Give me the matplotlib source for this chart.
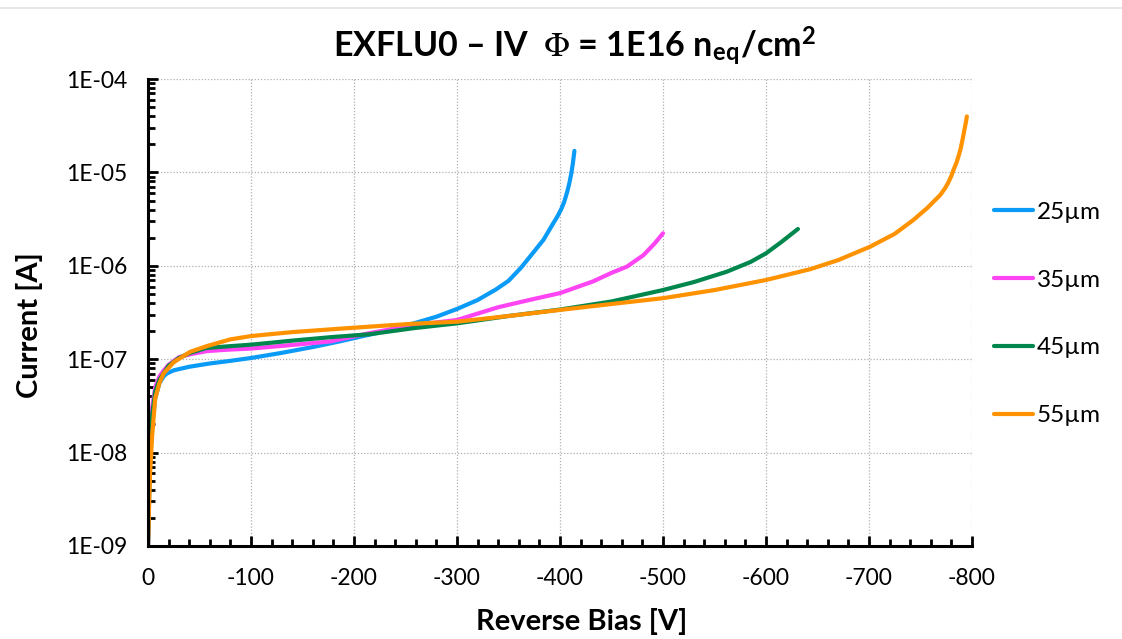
import numpy as np
import matplotlib
matplotlib.use("Agg")
import matplotlib.pyplot as plt
from matplotlib.ticker import FixedLocator, FuncFormatter, LogLocator, NullFormatter, MultipleLocator
from matplotlib.lines import Line2D

plt.rcParams['font.family'] = ['Lato', 'DejaVu Sans']
plt.rcParams['axes.unicode_minus'] = False
plt.rcParams['mathtext.fontset'] = 'stix'

labels = ["25µm", "35µm", "45µm", "55µm"]
colors = ["#0A9BF7", "#FF44F4", "#00874D", "#FF9200"]

v25 = [0, -1, -2, -4, -7, -11, -15, -18, -25, -40, -60, -80, -100, -130, -160, -186, -210,
       -235, -258, -280, -300, -320, -338, -350, -362, -372, -384, -393, -397, -401, -404,
       -407, -409, -411, -412.5, -414]
i25 = [1e-9, 3e-9, 8e-9, 2e-8, 3.8e-8, 5.5e-8, 6.5e-8, 7.0e-8, 7.6e-8, 8.3e-8, 9.0e-8, 9.6e-8, 1.03e-7,
       1.17e-7, 1.35e-7, 1.55e-7, 1.78e-7, 2.05e-7, 2.42e-7, 2.85e-7, 3.45e-7, 4.3e-7, 5.6e-7, 6.9e-7,
       9.5e-7, 1.3e-6, 1.9e-6, 2.8e-6, 3.3e-6, 4.0e-6, 4.8e-6, 6.2e-6, 7.6e-6, 9.8e-6, 1.25e-5, 1.7e-5]

v35 = [0, -1, -2, -4, -7, -11, -15, -20, -30, -41, -57, -75, -100, -140, -177, -215, -258, -300,
       -340, -370, -400, -432, -450, -465, -481, -492, -500]
i35 = [1e-9, 5e-9, 1.3e-8, 3e-8, 5e-8, 6.5e-8, 7.5e-8, 8.7e-8, 1.05e-7, 1.13e-7, 1.22e-7, 1.26e-7,
       1.3e-7, 1.42e-7, 1.55e-7, 1.9e-7, 2.32e-7, 2.63e-7, 3.6e-7, 4.3e-7, 5.1e-7, 6.8e-7, 8.4e-7,
       9.8e-7, 1.3e-6, 1.74e-6, 2.23e-6]

v45 = [0, -1, -2, -4, -7, -11, -15, -20, -30, -41, -57, -80, -100, -140, -177, -215, -258, -300,
       -350, -400, -450, -500, -530, -562, -585, -600, -615, -631]
i45 = [1e-9, 4e-9, 1e-8, 2.5e-8, 4.5e-8, 6e-8, 7e-8, 8.5e-8, 1.03e-7, 1.17e-7, 1.32e-7, 1.38e-7,
       1.43e-7, 1.58e-7, 1.72e-7, 1.85e-7, 2.15e-7, 2.42e-7, 2.9e-7, 3.4e-7, 4.15e-7, 5.5e-7, 6.7e-7,
       8.65e-7, 1.1e-6, 1.36e-6, 1.8e-6, 2.48e-6]

v55 = [0, -1, -2, -4, -7, -11, -15, -25, -41, -57, -80, -100, -140, -186, -220, -258, -300, -350,
       -400, -450, -500, -550, -600, -643, -670, -701, -725, -743, -757, -763, -769, -774, -777,
       -780, -782, -785, -787, -789, -791, -793, -794, -795]
i55 = [1e-9, 2.6e-9, 6e-9, 1.5e-8, 3.8e-8, 5.5e-8, 7e-8, 9.3e-8, 1.2e-7, 1.38e-7, 1.63e-7, 1.77e-7,
       1.95e-7, 2.12e-7, 2.25e-7, 2.4e-7, 2.52e-7, 2.9e-7, 3.37e-7, 3.9e-7, 4.5e-7, 5.5e-7, 7.05e-7,
       9.2e-7, 1.15e-6, 1.6e-6, 2.2e-6, 3.09e-6, 4.2e-6, 4.9e-6, 5.7e-6, 6.8e-6, 7.8e-6, 9.2e-6,
       1.06e-5, 1.28e-5, 1.5e-5, 1.8e-5, 2.3e-5, 3e-5, 3.4e-5, 3.97e-5]

series_v = [v25, v35, v45, v55]
series_i = [i25, i35, i45, i55]

title = r'EXFLU0 – IV  $\Phi$ = 1E16 n$_{\mathregular{eq}}$/cm$^{\mathregular{2}}$'

W, H = 1122, 639
fig = plt.figure(figsize=(W / 100, H / 100), dpi=100)
ax = fig.add_axes([148 / W, 1 - 546 / H, (972 - 148) / W, (546 - 79) / H])

for v, i, c, lab in zip(series_v, series_i, colors, labels):
    ax.plot(v, i, color=c, lw=3.0, label=lab, solid_capstyle='round', solid_joinstyle='round', zorder=3)

ax.set_yscale('log')
ax.set_xlim(0, -800)
ax.set_ylim(1e-9, 1e-4)

ax.xaxis.set_major_locator(MultipleLocator(100))
ax.xaxis.set_minor_locator(MultipleLocator(20))
ax.xaxis.set_major_formatter(FuncFormatter(lambda x, p: f"{int(round(x))}"))
ax.yaxis.set_major_locator(FixedLocator([10.0 ** e for e in range(-9, -3)]))
ax.yaxis.set_minor_locator(LogLocator(base=10, subs=np.arange(2, 10)))
ax.yaxis.set_minor_formatter(NullFormatter())
ax.yaxis.set_major_formatter(FuncFormatter(lambda y, p: f"1E-{abs(int(round(np.log10(y)))):02d}"))

ax.grid(True, which='major', color='#b0b0b0', linestyle=(0, (1, 1.5)), linewidth=0.9, zorder=0)
for s in ['top', 'right']:
    ax.spines[s].set_visible(False)
for s in ['left', 'bottom']:
    ax.spines[s].set_linewidth(2.2)
    ax.spines[s].set_zorder(4)

ax.tick_params(which='major', direction='in', length=7, width=2, labelsize=16.5, pad=15)
ax.tick_params(which='minor', direction='in', length=5, width=2)
ax.tick_params(axis='x', which='major', pad=16)

ax.set_xlabel('Reverse Bias [V]', fontsize=21, fontweight='bold')
ax.set_ylabel('Current [A]', fontsize=21, fontweight='bold')
ax.xaxis.set_label_coords((582 - 148) / (972 - 148), -(608 - 546) / (546 - 79))
ax.yaxis.set_label_coords(-(148 - 43) / (972 - 148), (546 - 325) / (546 - 79))

fig.text(575 / W, 1 - 46 / H, title, ha='center', va='center', fontsize=24.5, fontweight='bold')

leg = ax.legend(loc='center left', bbox_to_anchor=(994 / W, 1 - 314 / H), bbox_transform=fig.transFigure,
                frameon=False, fontsize=17.5, handlelength=1.6, handletextpad=0.15, labelspacing=1.92,
                borderaxespad=0, borderpad=0)
for h in leg.get_lines():
    h.set_linewidth(3)

fig.add_artist(Line2D([0, 1], [1 - 8 / H, 1 - 8 / H], transform=fig.transFigure, color='#e3e3e3', lw=1.2))

fig.savefig('out.png', dpi=100, facecolor='white')
